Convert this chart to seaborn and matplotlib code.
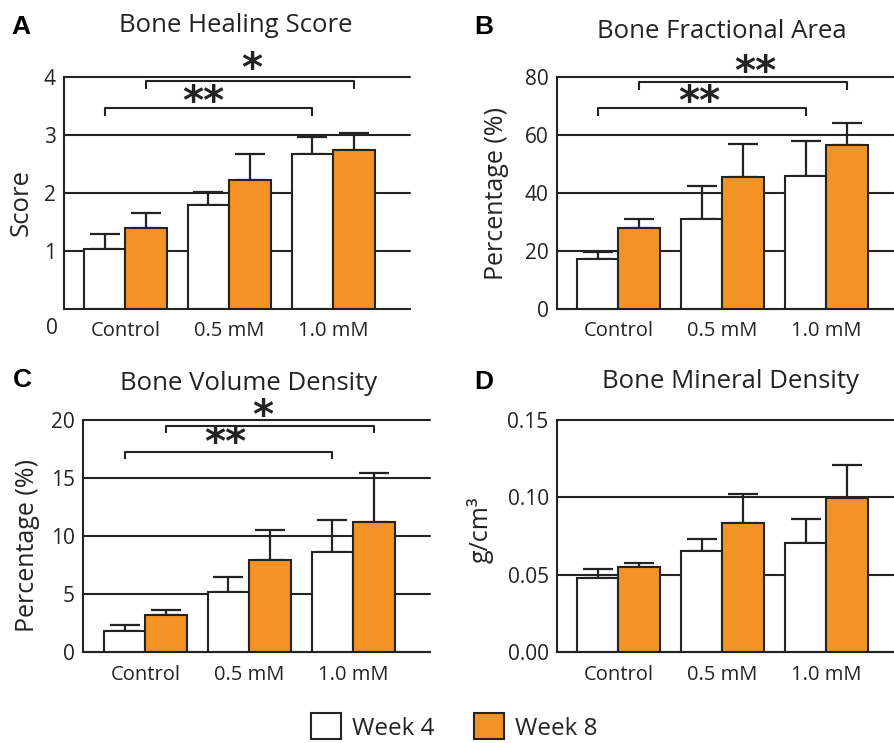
import pandas as pd
import matplotlib
matplotlib.use("Agg")
import matplotlib.pyplot as plt
from matplotlib.patches import Patch
import seaborn as sns

# data
groups = ["Control", "0.5 mM", "1.0 mM"]
weeks = ["Week 4", "Week 8"]

score_wk4 = [1.04, 1.80, 2.67]
score_wk4_err = [0.26, 0.22, 0.30]
score_wk8 = [1.40, 2.22, 2.75]
score_wk8_err = [0.26, 0.45, 0.29]

area_wk4 = [17.4, 31.0, 46.0]
area_wk4_err = [2.3, 11.5, 12.0]
area_wk8 = [27.9, 45.6, 56.4]
area_wk8_err = [3.0, 11.2, 7.6]

vol_wk4 = [1.84, 5.16, 8.58]
vol_wk4_err = [0.48, 1.30, 2.81]
vol_wk8 = [3.19, 7.89, 11.19]
vol_wk8_err = [0.45, 2.61, 4.22]

bmd_wk4 = [0.0476, 0.0652, 0.0706]
bmd_wk4_err = [0.0058, 0.0078, 0.0153]
bmd_wk8 = [0.0547, 0.0833, 0.0996]
bmd_wk8_err = [0.0028, 0.0187, 0.0214]

# significance brackets: (x from, x to, bar height, label)
sig_A = [(-0.2, 1.8, 3.47, "**"), (0.2, 2.2, 3.93, "*")]
sig_B = [(-0.2, 1.8, 69.4, "**"), (0.2, 2.2, 78.3, "**")]
sig_C = [(-0.2, 1.8, 17.27, "**"), (0.2, 2.2, 19.48, "*")]

sns.set_theme(style="white")
plt.rcParams["font.family"] = ["Open Sans", "DejaVu Sans"]

ORANGE = "#F39323"
INK = "#232323"
palette = {"Week 4": "white", "Week 8": ORANGE}

W, H = 894, 743
fig = plt.figure(figsize=(W / 100, H / 100), dpi=100)


def px_box(left, right, top, bottom):
    return [left / W, 1 - bottom / H, (right - left) / W, (bottom - top) / H]


def panel(rect, xlim, wk4, wk4_err, wk8, wk8_err, ylim, yticks, ylabels,
          sigs, tip, star_pos):
    ax = fig.add_axes(rect)
    df = pd.DataFrame({
        "group": groups * 2,
        "week": [weeks[0]] * 3 + [weeks[1]] * 3,
        "value": wk4 + wk8,
    })
    sns.barplot(data=df, x="group", y="value", hue="week", order=groups,
                hue_order=weeks, palette=palette, errorbar=None, width=0.8,
                edgecolor=INK, linewidth=1.5, saturation=1, legend=False, ax=ax)
    for cont, errs in zip(ax.containers, [wk4_err, wk8_err]):
        for p, e in zip(cont.patches, errs):
            xc = p.get_x() + p.get_width() / 2
            ax.errorbar(xc, p.get_height(), yerr=[[0], [e]], fmt="none",
                        ecolor=INK, elinewidth=1.6, capsize=11, capthick=1.6,
                        zorder=0.8)
    ax.set_xlim(*xlim)
    ax.set_ylim(*ylim)
    ax.set_yticks(yticks)
    ax.set_yticklabels(ylabels)
    ax.set_axisbelow(True)
    ax.yaxis.grid(True, color=INK, lw=1.5)
    for g in ax.yaxis.get_gridlines():
        g.set_clip_on(False)
    ax.tick_params(axis="y", length=0, pad=6, labelsize=15, labelcolor=INK)
    ax.tick_params(axis="x", length=0, pad=9, labelsize=14.5, labelcolor=INK)
    ax.set_xlabel("")
    ax.set_ylabel("")
    for s in ["top", "right"]:
        ax.spines[s].set_visible(False)
    for s in ["left", "bottom"]:
        ax.spines[s].set_color(INK)
        ax.spines[s].set_linewidth(1.5)
    for (x1, x2, y, lab), (sx, sy) in zip(sigs, star_pos):
        ax.plot([x1, x1, x2, x2], [y - tip, y, y, y - tip], color=INK,
                lw=1.5, clip_on=False, solid_capstyle="butt")
        ax.text(sx, sy, lab, ha="center", va="center", fontsize=29,
                fontweight="bold", color=INK, family="DejaVu Sans",
                clip_on=False)
    return ax


axA = panel(px_box(64, 410, 77, 309), (-0.59, 2.74),
            score_wk4, score_wk4_err, score_wk8, score_wk8_err,
            (0, 4), [1, 2, 3, 4], ["1", "2", "3", "4"],
            sig_A, 0.14, [(0.75, 3.55), (1.22, 4.12)])
axB = panel(px_box(557, 894, 77, 309), (-0.59, 2.65),
            area_wk4, area_wk4_err, area_wk8, area_wk8_err,
            (0, 80), [0, 20, 40, 60, 80], ["0", "20", "40", "60", "80"],
            sig_B, 2.7, [(0.78, 71.2), (1.32, 81.5)])
axC = panel(px_box(83, 430, 420, 652), (-0.6, 2.74),
            vol_wk4, vol_wk4_err, vol_wk8, vol_wk8_err,
            (0, 20), [0, 5, 10, 15, 20], ["0", "5", "10", "15", "20"],
            sig_C, 0.6, [(0.77, 17.9), (1.13, 20.3)])
axD = panel(px_box(557, 894, 420, 652), (-0.59, 2.65),
            bmd_wk4, bmd_wk4_err, bmd_wk8, bmd_wk8_err,
            (0, 0.15), [0, 0.05, 0.10, 0.15], ["0.00", "0.05", "0.10", "0.15"],
            [], 0, [])

# lone zero tick of panel A sits on the category row
fig.text(52 / W, 1 - 328 / H, "0", ha="center", va="center", fontsize=15, color=INK)


def ftext(x, y, s, **kw):
    fig.text(x / W, 1 - y / H, s, ha="center", va="center", color=INK, **kw)


# titles
ftext(236, 25, "Bone Healing Score", fontsize=18.5)
ftext(722, 32, "Bone Fractional Area", fontsize=18.5)
ftext(249, 383, "Bone Volume Density", fontsize=18.5)
ftext(730, 382, "Bone Mineral Density", fontsize=18.5)

# y labels
ftext(21, 202, "Score", fontsize=18.5, rotation=90)
ftext(497, 193, "Percentage (%)", fontsize=18, rotation=90)
ftext(28, 545, "Percentage (%)", fontsize=18, rotation=90)
ftext(480, 530, "g/cm³", fontsize=18, rotation=90)

# panel letters
for x, y, s in [(21, 27, "A"), (484, 27, "B"), (22, 380, "C"), (484, 382, "D")]:
    fig.text(x / W, 1 - y / H, s, ha="center", va="center", fontsize=19,
             fontweight="bold", family="Liberation Sans", color="black")

handles = [Patch(facecolor=palette[w], edgecolor=INK, linewidth=1.5) for w in weeks]
leg = fig.legend(handles, weeks, loc="center", bbox_to_anchor=(0.508, 1 - 727 / H),
                 ncol=2, frameon=False, fontsize=17.5, handlelength=1.25,
                 handleheight=1.25, handletextpad=0.45, columnspacing=1.6)
for t in leg.get_texts():
    t.set_color(INK)

fig.savefig("out.png", dpi=100, facecolor="white")
